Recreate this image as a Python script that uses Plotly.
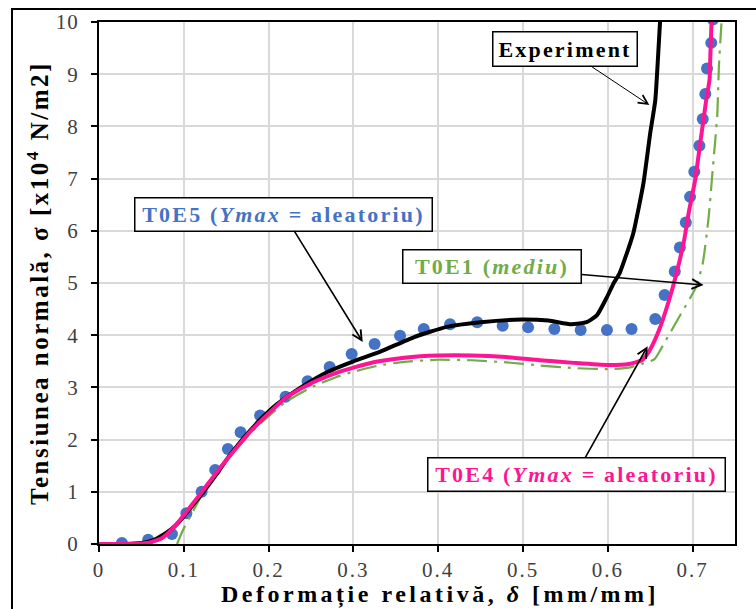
import plotly.graph_objects as go

# Experimental stress-strain curve
exp_x = [0, 0.03, 0.05, 0.065, 0.08, 0.09, 0.1, 0.11, 0.12, 0.137, 0.152, 0.17, 0.19,
         0.21, 0.24, 0.27, 0.3, 0.331, 0.371, 0.41, 0.45, 0.498, 0.53, 0.557, 0.575,
         0.587, 0.599, 0.607, 0.614, 0.622, 0.63, 0.642, 0.65, 0.656, 0.6616, 0.663]
exp_y = [0, 0, 0.02, 0.08, 0.22, 0.35, 0.53, 0.73, 0.93, 1.3, 1.65, 2.02, 2.38,
         2.68, 3.02, 3.3, 3.5, 3.68, 3.96, 4.16, 4.25, 4.3, 4.28, 4.21, 4.25,
         4.38, 4.73, 5.0, 5.19, 5.55, 5.95, 6.91, 7.87, 8.5, 10.0, 10.3]

# T0E5 (Ymax = aleatoriu) - markers
t0e5_x = [0.027, 0.058, 0.086, 0.103, 0.121, 0.137, 0.152, 0.167, 0.19, 0.22, 0.246,
          0.272, 0.298, 0.325, 0.355, 0.383, 0.414, 0.446, 0.476, 0.506, 0.537, 0.568,
          0.599, 0.628, 0.656, 0.667, 0.679, 0.685, 0.692, 0.697, 0.702, 0.708, 0.712,
          0.715, 0.717, 0.722, 0.724]
t0e5_y = [0.02, 0.08, 0.19, 0.59, 1.0, 1.42, 1.82, 2.14, 2.46, 2.82, 3.12,
          3.39, 3.64, 3.83, 3.99, 4.12, 4.21, 4.25, 4.18, 4.15, 4.12, 4.1,
          4.1, 4.12, 4.31, 4.77, 5.22, 5.68, 6.16, 6.65, 7.13, 7.63, 8.14,
          8.62, 9.11, 9.6, 10.05]

# T0E4 (Ymax = aleatoriu) - solid line
t0e4_x = [0, 0.04, 0.06, 0.075, 0.09, 0.1, 0.11, 0.12, 0.14, 0.16, 0.18, 0.2, 0.22,
          0.25, 0.28, 0.3, 0.33, 0.36, 0.4, 0.44, 0.48, 0.52, 0.56, 0.6, 0.625, 0.64,
          0.649, 0.66, 0.672, 0.682, 0.69, 0.696, 0.703, 0.709, 0.716, 0.72, 0.721, 0.723]
t0e4_y = [0, 0, 0.03, 0.12, 0.35, 0.55, 0.76, 0.97, 1.4, 1.8, 2.18, 2.5, 2.8,
          3.08, 3.28, 3.38, 3.5, 3.57, 3.61, 3.61, 3.58, 3.52, 3.47, 3.43, 3.45, 3.52,
          3.7, 4.08, 4.66, 5.25, 5.82, 6.4, 6.97, 7.68, 8.5, 8.9, 9.4, 10.3]

# T0E1 (mediu) - dash-dot line
t0e1_x = [0.092, 0.1, 0.11, 0.12, 0.14, 0.16, 0.18, 0.2, 0.22, 0.25, 0.28, 0.3, 0.33,
          0.36, 0.4, 0.44, 0.48, 0.52, 0.56, 0.6, 0.625, 0.64, 0.655, 0.668, 0.686,
          0.704, 0.712, 0.719, 0.724, 0.729, 0.731, 0.734, 0.736]
t0e1_y = [0, 0.3, 0.6, 0.9, 1.38, 1.78, 2.15, 2.45, 2.72, 3.0, 3.2, 3.3, 3.42,
          3.49, 3.53, 3.52, 3.48, 3.42, 3.37, 3.35, 3.38, 3.45, 3.54, 3.89, 4.4,
          4.92, 5.38, 6.27, 7.23, 8.19, 9.14, 9.97, 10.3]

x_ticks = [0, 0.1, 0.2, 0.3, 0.4, 0.5, 0.6, 0.7]
x_tick_labels = ["0", "0.1", "0.2", "0.3", "0.4", "0.5", "0.6", "0.7"]
y_ticks = [0, 1, 2, 3, 4, 5, 6, 7, 8, 9, 10]
y_tick_labels = [str(v) for v in y_ticks]

FONT = "Liberation Serif"
BLUE = "#4472C4"
GREEN = "#70AD47"
PINK = "#FF1493"
GRID = "#D9D9D9"


def spaced(text, px):
    return f"<span style='letter-spacing:{px}px'>{text}</span>"


fig = go.Figure()
fig.add_trace(go.Scatter(x=t0e5_x, y=t0e5_y, mode="markers",
                         marker=dict(color=BLUE, size=12), name="T0E5"))
fig.add_trace(go.Scatter(x=t0e1_x, y=t0e1_y, mode="lines", name="T0E1",
                         line=dict(color=GREEN, width=2.2, dash="20px,7px,3px,7px",
                                   shape="spline", smoothing=0.5)))
fig.add_trace(go.Scatter(x=exp_x, y=exp_y, mode="lines", name="Experiment",
                         line=dict(color="black", width=4, shape="spline", smoothing=0.5)))
fig.add_trace(go.Scatter(x=t0e4_x, y=t0e4_y, mode="lines", name="T0E4",
                         line=dict(color=PINK, width=4, shape="spline", smoothing=0.5)))


def callout(text, color, tip, tail, w, h, lw, asize):
    return dict(x=tip[0], y=tip[1], ax=tail[0], ay=tail[1],
                xref="x", yref="y", axref="x", ayref="y",
                text=spaced(text, 2.2),
                font=dict(family=FONT, size=22, color=color),
                bgcolor="white", bordercolor="black", borderwidth=1.5, borderpad=2,
                width=w, height=h, showarrow=True, arrowhead=5,
                arrowsize=asize, arrowwidth=lw, arrowcolor="black")


annotations = [
    callout("<b>Experiment</b>", "black", (0.649, 8.41), (0.549, 9.49), 139, 29, 1.0, 1.8),
    callout("<b>T0E5 (<i>Ymax</i> = aleatoriu)</b>", BLUE, (0.311, 3.87), (0.218, 6.32), 292, 28, 1.6, 1.2),
    callout("<b>T0E1 (<i>mediu</i>)</b>", GREEN, (0.713, 4.96), (0.464, 5.31), 173, 28, 1.6, 1.2),
    callout("<b>T0E4 (<i>Ymax</i> = aleatoriu)</b>", PINK, (0.647, 3.79), (0.5625, 1.34), 292, 28, 1.6, 1.2),
    # x-axis title, centred a little right of the plot centre
    dict(text=spaced("<b>Deformație relativă, <i>δ</i> [mm/mm]</b>", 3.5),
         xref="paper", yref="paper", x=0.536, y=-0.0975,
         xanchor="center", yanchor="middle", showarrow=False,
         font=dict(family=FONT, size=24, color="black")),
]

axis_common = dict(
    showline=True, linecolor="black", linewidth=2, mirror=True,
    showgrid=True, gridcolor=GRID, gridwidth=1.5, zeroline=False,
    ticks="outside", ticklen=6, tickwidth=2, tickcolor="black",
    tickfont=dict(family=FONT, size=21, color="#404040"),
    automargin=False,
)

fig.update_layout(
    width=756, height=609,
    margin=dict(l=99, r=21, t=22, b=65),
    paper_bgcolor="white", plot_bgcolor="white",
    showlegend=False,
    font=dict(family=FONT),
    xaxis=dict(range=[0, 0.75], tickvals=x_ticks,
               ticktext=[spaced(t, 2) for t in x_tick_labels],
               ticklabelstandoff=0,
               **axis_common),
    yaxis=dict(range=[0, 10], tickvals=y_ticks,
               ticktext=[spaced(t, 1) for t in y_tick_labels],
               ticklabelstandoff=8,
               title=dict(text=spaced("<b>Tensiunea normală, σ [x10<sup>4</sup> N/m2]</b>", 2.5),
                          font=dict(family=FONT, size=25, color="black"), standoff=0),
               **axis_common),
    xaxis2=dict(overlaying="x", matches="x", anchor="y", side="bottom",
                tickvals=x_ticks, ticks="inside", ticklen=5, tickwidth=2, tickcolor="black",
                showticklabels=False, showgrid=False, showline=False, zeroline=False),
    yaxis2=dict(overlaying="y", matches="y", anchor="x", side="left",
                tickvals=y_ticks, ticks="inside", ticklen=5, tickwidth=2, tickcolor="black",
                showticklabels=False, showgrid=False, showline=False, zeroline=False),
    annotations=annotations,
    shapes=[dict(type="rect", xref="paper", yref="paper",
                 x0=-0.1368, x1=1.4, y0=-0.4, y1=1.0249,
                 line=dict(color="black", width=2), fillcolor="rgba(0,0,0,0)", layer="above")],
)

fig.write_html("out.html")
